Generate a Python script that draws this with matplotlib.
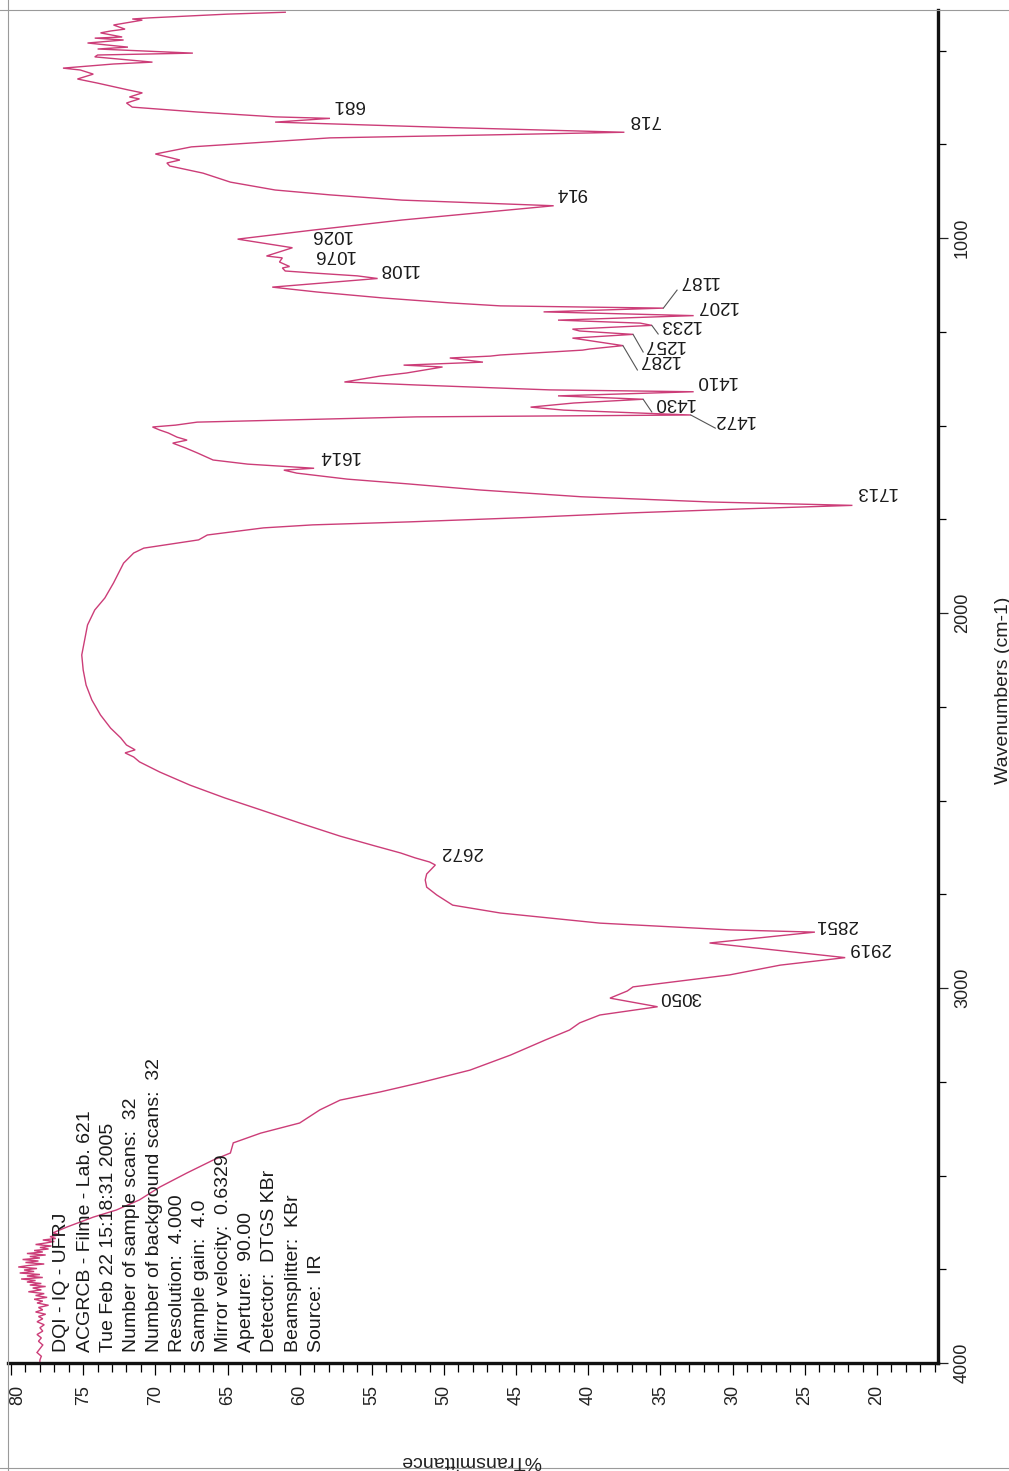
import matplotlib
matplotlib.use("Agg")
import matplotlib.pyplot as plt
from matplotlib import transforms
from matplotlib.lines import Line2D

plt.rcParams['font.family'] = ['Liberation Sans', 'DejaVu Sans']

# ---------------- spectrum (wavenumber in cm-1, %T) ----------------
wavenumber = [
    398, 403, 413, 416, 419, 432, 443, 448, 453, 464, 467, 472, 480, 491, 496,
    507, 512, 517, 531, 536, 547, 552, 563, 576, 587, 605, 613, 624, 629, 640,
    651, 664, 677, 681, 691, 705, 718, 725, 733, 757, 776, 792, 800, 808, 827,
    851, 872, 885, 899, 914, 952, 979, 1003, 1026, 1048, 1053, 1064, 1076, 1080,
    1088, 1094, 1101, 1108, 1131, 1144, 1160, 1173, 1181, 1187, 1197, 1207, 1219,
    1227, 1233, 1243, 1248, 1257, 1267, 1272, 1287, 1296, 1299, 1312, 1315, 1320,
    1331, 1339, 1344, 1360, 1368, 1384, 1392, 1405, 1410, 1421, 1430, 1440, 1451,
    1459, 1472, 1477, 1491, 1499, 1504, 1512, 1520, 1531, 1539, 1547, 1560, 1573,
    1592, 1603, 1614, 1619, 1627, 1643, 1656, 1672, 1690, 1704, 1713, 1722, 1733,
    1745, 1757, 1765, 1773, 1792, 1805, 1827, 1840, 1867, 1920, 1960, 1992, 2032,
    2072, 2112, 2152, 2192, 2232, 2272, 2307, 2333, 2352, 2365, 2373, 2384, 2397,
    2424, 2459, 2493, 2525, 2560, 2595, 2621, 2640, 2653, 2664, 2672, 2696, 2712,
    2731, 2752, 2779, 2800, 2827, 2845, 2851, 2880, 2919, 2939, 2965, 2997, 3008,
    3027, 3050, 3072, 3093, 3112, 3139, 3179, 3219, 3253, 3277, 3299, 3325, 3360,
    3387, 3413, 3440, 3459, 3493, 3531, 3565, 3592, 3611, 3624, 3637, 3653, 3658,
    3663, 3668, 3672, 3676, 3680, 3684, 3688, 3692, 3696, 3700, 3704, 3708, 3712,
    3716, 3720, 3724, 3728, 3732, 3736, 3740, 3744, 3748, 3752, 3756, 3760, 3764,
    3768, 3772, 3776, 3780, 3784, 3788, 3792, 3796, 3800, 3805, 3810, 3815, 3820,
    3825, 3830, 3835, 3840, 3846, 3852, 3858, 3864, 3870, 3876, 3882, 3890, 3898,
    3906, 3915, 3924, 3933, 3942, 3952, 3962, 3972, 3982, 3992, 4000,
]
transmittance = [
    61.0, 65.0, 70.4, 71.6, 70.9, 72.9, 72.1, 73.1, 73.8, 72.3, 74.2, 72.2, 74.7, 71.9, 74.0,
    67.4, 74.0, 74.2, 70.2, 72.9, 76.4, 75.2, 74.3, 75.4, 74.0, 71.9, 70.9, 71.8, 71.1, 72.0,
    71.6, 67.1, 61.7, 57.9, 61.7, 50.0, 37.5, 46.7, 57.9, 67.5, 70.0, 68.3, 69.2, 69.0, 66.7,
    64.8, 61.7, 57.9, 52.9, 42.4, 52.9, 59.1, 64.3, 60.5, 62.3, 61.2, 61.4, 60.7, 61.2,
    61.0, 58.8, 56.0, 54.6, 61.9, 58.8, 54.2, 49.6, 46.1, 34.8, 43.1, 32.7, 42.1,
    36.4, 35.6, 41.1, 40.6, 36.9, 41.1, 40.2, 37.6, 39.9, 40.4, 46.1, 46.8, 49.6,
    47.3, 52.8, 50.1, 52.6, 54.4, 56.9, 51.9, 42.7, 32.7, 42.1, 36.2, 41.0, 44.0,
    41.7, 32.9, 51.9, 67.1, 68.6, 70.2, 69.7, 69.1, 68.5, 67.8, 68.8, 67.9, 67.1,
    66.0, 63.6, 59.0, 61.1, 60.2, 56.7, 52.4, 47.5, 40.5, 31.5, 21.7, 29.0, 37.0,
    44.0, 52.4, 59.1, 62.5, 66.4, 67.0, 70.8, 71.5, 72.2, 72.9, 73.5, 74.2, 74.7,
    74.9, 75.1, 75.0, 74.8, 74.4, 73.8, 73.1, 72.4, 72.0, 71.4, 72.1, 71.5, 71.1,
    69.7, 67.6, 65.2, 62.7, 60.0, 57.2, 54.8, 53.0, 52.0, 51.0, 50.6, 51.2, 51.3,
    51.2, 50.5, 49.4, 46.1, 39.2, 30.2, 24.3, 31.6, 22.2, 26.7, 30.2, 36.9, 37.3,
    38.5, 35.2, 39.2, 40.6, 41.3, 43.0, 45.4, 48.2, 51.7, 54.4, 57.2, 58.6, 60.0,
    62.7, 64.6, 64.8, 66.0, 67.8, 69.7, 71.1, 72.7, 74.3, 75.2, 76.1, 77.1, 76.6,
    77.3, 76.9, 77.8, 77.0, 77.6, 78.3, 77.2, 78.0, 77.4, 78.4, 77.8, 78.9, 77.6,
    78.7, 78.0, 79.2, 78.1, 79.0, 77.7, 78.8, 79.5, 78.2, 79.1, 78.4, 79.4, 78.0,
    78.9, 77.8, 79.3, 78.3, 78.9, 77.9, 78.7, 77.6, 78.5, 77.9, 78.8, 77.7, 78.3,
    77.5, 78.4, 77.8, 78.2, 77.4, 78.1, 77.8, 78.3, 77.6, 78.1, 77.8, 78.2, 77.7,
    78.0, 77.8, 78.2, 77.9, 78.1, 77.8, 78.0, 78.2, 77.9, 78.0, 78.0,
]

# ---------------- peak labels ----------------
peak_values = [681, 718, 914, 1026, 1076, 1108, 1187, 1207, 1233, 1257,
               1287, 1410, 1430, 1472, 1614, 1713, 2672, 2851, 2919, 3050]
peak_label_T = [57.69, 37.24, 42.23, 59.28, 59.07, 54.57, 33.78, 32.53, 35.09, 36.20,
                36.55, 32.60, 35.50, 31.35, 58.72, 21.51, 50.27, 24.28, 22.00, 35.09]
peak_label_wn = [645, 685, 880, 992, 1045, 1080, 1112, 1179, 1232, 1283,
                 1325, 1381, 1440, 1485, 1581, 1677, 2637, 2832, 2893, 3024]
# leader lines: (peak wn, peak %T) -> (end wn, end %T)
leaders = [
    (1187, 34.8, 1139, 33.85),
    (1233, 35.6, 1256, 35.16),
    (1257, 36.9, 1304, 36.20),
    (1287, 37.6, 1352, 36.60),
    (1430, 36.2, 1464, 35.60),
    (1472, 32.9, 1507, 31.20),
]

# ---------------- axes ticks ----------------
t_major = [80, 75, 70, 65, 60, 55, 50, 45, 40, 35, 30, 25, 20]
t_minor = list(range(16, 81))
wn_major = [1000, 2000, 3000, 4000]
wn_minor = [500, 750, 1250, 1500, 1750, 2250, 2500, 2750, 3250, 3500, 3750]

info_lines = [
    "DQI - IQ - UFRJ",
    "ACGRCB - Filme - Lab. 621",
    "Tue Feb 22 15:18:31 2005",
    "Number of sample scans:  32",
    "Number of background scans:  32",
    "Resolution:  4.000",
    "Sample gain:  4.0",
    "Mirror velocity:  0.6329",
    "Aperture:  90.00",
    "Detector:  DTGS KBr",
    "Beamsplitter:  KBr",
    "Source:  IR",
]

W, H = 1009, 1471
fig = plt.figure(figsize=(W / 100, H / 100), dpi=100)
fig.patch.set_facecolor('white')
ax = fig.add_axes([8 / W, 1 - 1363 / H, (938 - 8) / W, (1363 - 10) / H])

line_color = '#cc3d78'
ax.plot(transmittance, wavenumber, color=line_color, lw=1.0, solid_joinstyle='miter')

ax.set_xlim(80.21, 15.77)
ax.set_ylim(4000, 392)

for s in ('left', 'top'):
    ax.spines[s].set_visible(False)
for s in ('right', 'bottom'):
    ax.spines[s].set_linewidth(2.4)
    ax.spines[s].set_color('#111111')

# wavenumber axis (right side)
ax.yaxis.tick_right()
ax.set_yticks(wn_major)
ax.set_yticks(wn_minor, minor=True)
ax.set_yticklabels([str(v) for v in wn_major], rotation=90, va='center', fontsize=13)
ax.tick_params(axis='y', which='major', direction='out', length=7.5, width=0.9, pad=4, colors='#222222')
ax.tick_params(axis='y', which='minor', direction='out', length=6, width=0.9)

# transmittance axis (bottom)
ax.set_xticks(t_major)
ax.set_xticks(t_minor, minor=True)
ax.tick_params(axis='x', which='major', direction='out', length=8.6, width=0.9, labelbottom=False)
ax.tick_params(axis='x', which='minor', direction='out', length=6.2, width=0.9)

trans = transforms.blended_transform_factory(ax.transData, fig.transFigure)
for v in t_major:
    tr = trans
    if v == t_major[0]:
        tr = transforms.offset_copy(trans, fig=fig, x=7, y=0, units='dots')
    ax.text(v, 1 - 1395 / H, str(v), transform=tr, rotation=90,
            ha='center', va='center', fontsize=13, color='#222222')

fig.text(471 / W, 1 - 1460 / H, '%Transmittance', rotation=180,
         ha='center', va='center', fontsize=14, color='#222222')
fig.text(1003 / W, 1 - 690 / H, 'Wavenumbers (cm-1)', rotation=90,
         ha='center', va='center', fontsize=14, color='#222222')

# acquisition info block
for i, txt in enumerate(info_lines):
    fig.text((62 + 23.1 * i) / W, 1 - 1352 / H, txt, rotation=90,
             ha='center', va='bottom', fontsize=14, color='#1a1a1a')

# peak labels
for val, tx, wy in zip(peak_values, peak_label_T, peak_label_wn):
    ax.text(tx, wy, str(val), rotation=180, ha='left', va='center',
            fontsize=13.5, color='#1a1a1a')
for w0, t0, w1, t1 in leaders:
    ax.plot([t0, t1], [w0, w1], color='#555555', lw=0.8)

# page border lines
for xs, ys in (([8 / W, 8 / W], [0, 1]),
               ([0, 1], [1 - 10 / H, 1 - 10 / H]),
               ([0, 1], [1 - 1468 / H, 1 - 1468 / H])):
    fig.add_artist(Line2D(xs, ys, transform=fig.transFigure, color='#9a9a9a', lw=0.8))

fig.savefig('out.png', dpi=100)
